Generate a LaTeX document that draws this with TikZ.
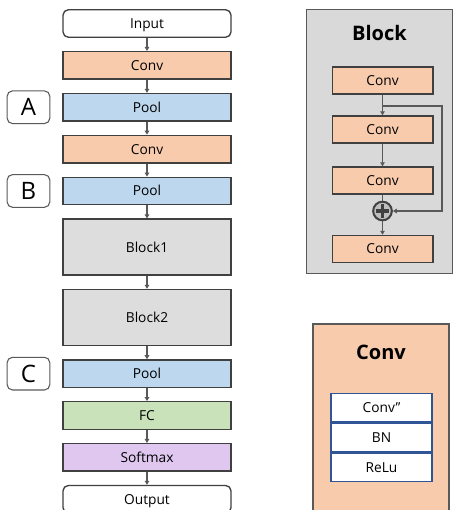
\documentclass[tikz,border=0pt]{standalone}
\usepackage{fontspec}
\setmainfont{Open Sans}
\usepackage{tikz}
\usetikzlibrary{arrows.meta, positioning, calc}

\definecolor{convfill}{HTML}{F8CBAD}
\definecolor{poolfill}{HTML}{BDD7EE}
\definecolor{blockfill}{HTML}{DDDDDD}
\definecolor{fcfill}{HTML}{C9E2B9}
\definecolor{softfill}{HTML}{DFC7EF}
\definecolor{panelfill}{HTML}{D9D9D9}
\definecolor{edge}{HTML}{404040}
\definecolor{wire}{HTML}{595959}
\definecolor{tableblue}{HTML}{2F5597}

\tikzset{
  layer/.style={draw=edge, line width=1pt, minimum width=126pt,
                minimum height=20.6pt, inner sep=0pt, text height=7.4pt, text depth=0pt,
                font=\fontsize{10.3}{12}\selectfont},
  endbox/.style={layer, fill=white, rounded corners=4pt},
  bigbox/.style={layer, fill=blockfill, minimum height=42pt},
  tag/.style={draw=wire, line width=0.8pt, fill=white, rounded corners=4pt,
              minimum width=32pt, minimum height=24.5pt, inner sep=0pt,
              text height=13pt, text depth=0pt, font=\fontsize{18}{18}\selectfont},
  flow/.style={draw=wire, line width=0.9pt, -{Triangle[length=3pt,width=3.4pt]}},
  small/.style={draw=edge, line width=1pt, fill=convfill, minimum width=75.5pt,
                minimum height=20.3pt, inner sep=0pt, text height=7.4pt, text depth=0pt,
                font=\fontsize{10.3}{12}\selectfont},
  cell/.style={draw=tableblue, line width=1.1pt, fill=white, minimum width=75.5pt,
               minimum height=21.3pt, inner sep=0pt, text height=7.4pt, text depth=0pt,
               font=\fontsize{10.3}{12}\selectfont},
}

\begin{document}
\begin{tikzpicture}[x=0.75pt, y=-0.75pt, node distance=9.8pt]
  \clip (0,0) rectangle (456,510);

  % main network
  \node[endbox] (input) at (147,23.5) {Input};
  \node[layer, fill=convfill, below=of input] (conv1) {Conv};
  \node[layer, fill=poolfill, below=of conv1] (pool1) {Pool};
  \node[layer, fill=convfill, below=of pool1] (conv2) {Conv};
  \node[layer, fill=poolfill, below=of conv2] (pool2) {Pool};
  \node[bigbox, below=of pool2] (block1) {Block1};
  \node[bigbox, below=of block1] (block2) {Block2};
  \node[layer, fill=poolfill, below=of block2] (pool3) {Pool};
  \node[layer, fill=fcfill, below=of pool3] (fc) {FC};
  \node[layer, fill=softfill, below=of fc] (softmax) {Softmax};
  \node[endbox, below=of softmax] (output) {Output};

  \foreach \a/\b in {input/conv1, conv1/pool1, pool1/conv2, conv2/pool2,
                     pool2/block1, block1/block2, block2/pool3, pool3/fc,
                     fc/softmax, softmax/output}
    \draw[flow] (\a) -- (\b);

  % markers
  \node[tag, left=9pt of pool1] (tagA) {A};
  \node[tag, left=9pt of pool2] (tagB) {B};
  \node[tag, left=9pt of pool3] (tagC) {C};

  % block detail
  \node[draw=wire, line width=0.8pt, fill=panelfill, minimum width=110pt,
        minimum height=198.5pt] (blockbg) at (379.5,141.5) {};
  \node[font=\fontsize{15}{18}\selectfont\bfseries] (blocktitle) at (379.5,33) {Block};
  \node[small] (bconv1) at (382.5,80.5) {Conv};
  \node[small] (bconv2) at (382.5,129.5) {Conv};
  \node[small] (bconv3) at (382.5,180.5) {Conv};
  \node[small] (bconv4) at (382.5,249) {Conv};
  \node[circle, draw=edge, line width=1.5pt, fill=panelfill!70!gray,
        minimum size=14pt, inner sep=0pt] (plus) at (382.5,211) {};
  \draw[edge, line width=2.6pt] ([yshift=5pt]plus.center) -- ([yshift=-5pt]plus.center);
  \draw[edge, line width=2.6pt] ([xshift=-5pt]plus.center) -- ([xshift=5pt]plus.center);

  \draw[flow] (bconv1) -- (bconv2);
  \draw[flow] (bconv2) -- (bconv3);
  \draw[draw=wire, line width=0.9pt] (bconv3) -- (plus);
  \draw[flow] (plus) -- (bconv4);
  \coordinate (split) at ($(bconv1.south)!0.55!(bconv2.north)$);
  \coordinate (skipx) at (442,0);
  \draw[flow] (split) -- (split -| skipx) |- (plus.east);

  % conv detail
  \node[draw=wire, line width=0.8pt, fill=convfill, minimum width=102pt,
        minimum height=150pt] (convbg) at (381,424) {};
  \node[font=\fontsize{15}{18}\selectfont\bfseries] (convtitle) at (381,352) {Conv};
  \node[cell] (cellconv) at (381.5,407.5) {Conv”};
  \node[cell, below=0pt of cellconv] (cellbn) {BN};
  \node[cell, below=0pt of cellbn] (cellrelu) {ReLu};
\end{tikzpicture}
\end{document}
